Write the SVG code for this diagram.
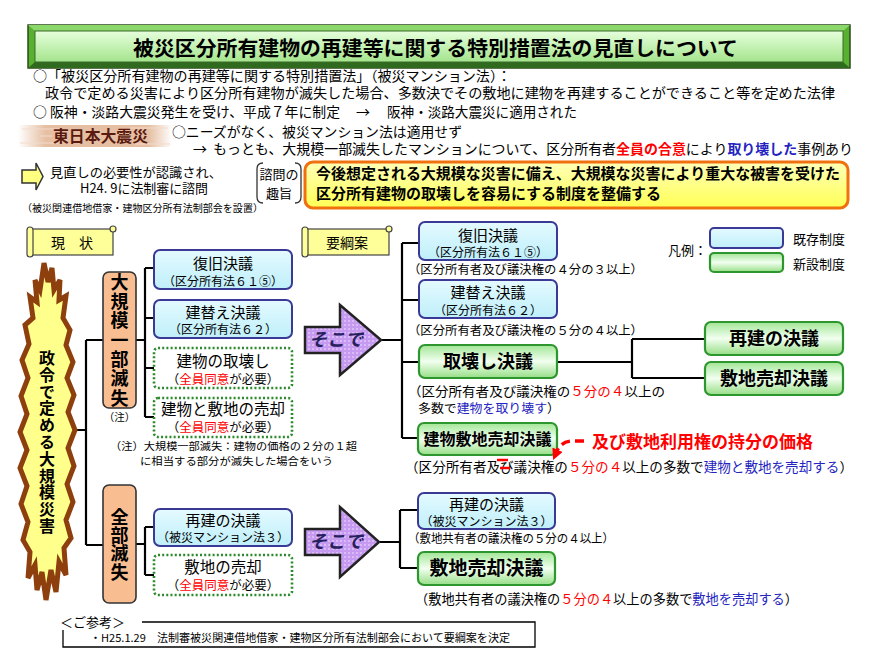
<svg xmlns="http://www.w3.org/2000/svg" width="876" height="659" viewBox="0 0 876 659">
<defs>
<style>
text{font-family:"Noto Sans CJK JP","Noto Sans",sans-serif;fill:#000}
.b{font-weight:bold}
.r{fill:#FF0000}
.bl{fill:#2424C0}
.c{text-anchor:middle}
.v{writing-mode:vertical-rl}
.boxB{fill:url(#gB);stroke:#3A3A96;stroke-width:2}
.boxG{fill:url(#gG);stroke:#2E962E;stroke-width:2.2}
.boxD{fill:#fff;stroke:#2B8A2B;stroke-width:2.6;stroke-dasharray:2 2.2}
.ln{stroke:#000;stroke-width:2.2;fill:none}
.scroll{fill:#FFFF99;stroke:#444;stroke-width:1.2}
.arrowP{fill:url(#dots);stroke:#222;stroke-width:2.5;stroke-linejoin:miter}
.soko{font-size:18px;font-weight:bold;font-style:italic;fill:#26205E;text-anchor:middle}
.peach{fill:#F8BE92;stroke:#333;stroke-width:1.6}
</style>
<linearGradient id="gB" x1="0" y1="0" x2="0" y2="1"><stop offset="0" stop-color="#E4FAFF"/><stop offset="1" stop-color="#BFEFFA"/></linearGradient>
<linearGradient id="gG" x1="0" y1="0" x2="0" y2="1"><stop offset="0" stop-color="#A2E696"/><stop offset="0.5" stop-color="#F2FFF0"/><stop offset="1" stop-color="#96DE86"/></linearGradient>
<linearGradient id="gTitle" x1="0" y1="0" x2="0" y2="1"><stop offset="0" stop-color="#E6FFDC"/><stop offset="1" stop-color="#A4E48C"/></linearGradient>
<linearGradient id="gY" x1="0" y1="0" x2="0" y2="1"><stop offset="0" stop-color="#FFFFB8"/><stop offset="1" stop-color="#FFFF55"/></linearGradient>
<linearGradient id="gBrush" x1="0" y1="0" x2="1" y2="0"><stop offset="0" stop-color="#E6BFA3" stop-opacity="0"/><stop offset="0.18" stop-color="#E6BFA3"/><stop offset="0.85" stop-color="#E6BFA3"/><stop offset="1" stop-color="#E6BFA3" stop-opacity="0"/></linearGradient>
<pattern id="dots" width="4" height="4" patternUnits="userSpaceOnUse"><rect width="4" height="4" fill="#C69AF0"/><circle cx="1" cy="1" r="0.8" fill="#F2E6FF"/></pattern>
<marker id="ra" viewBox="0 0 10 10" refX="8" refY="5" markerWidth="3.2" markerHeight="3.2" orient="auto"><path d="M0,0 L10,5 L0,10 z" fill="#FF0000"/></marker>
</defs>

<!-- Title -->
<g id="title">
<rect x="28" y="25" width="822" height="43" fill="#58B030" stroke="#2A4A1A" stroke-width="1.5"/>
<path d="M28,25 H850 L843,31 H35 Z" fill="#8AD86A"/>
<path d="M28,68 H850 L843,62 H35 Z" fill="#2F6A1E"/>
<rect x="35" y="31" width="808" height="31" fill="url(#gTitle)" stroke="#3A6A2A" stroke-width="1"/>
<text x="133" y="56" font-size="20" class="b" textLength="605" lengthAdjust="spacingAndGlyphs">被災区分所有建物の再建等に関する特別措置法の見直しについて</text>
</g>

<!-- Intro lines -->
<g id="intro">
<text x="33" y="81" font-size="14" textLength="478" lengthAdjust="spacingAndGlyphs">○「被災区分所有建物の再建等に関する特別措置法」（被災マンション法）：</text>
<text x="45" y="98" font-size="14" textLength="790" lengthAdjust="spacingAndGlyphs">政令で定める災害により区分所有建物が滅失した場合、多数決でその敷地に建物を再建することができること等を定めた法律</text>
<text x="33" y="117" font-size="14" textLength="307" lengthAdjust="spacingAndGlyphs">○ 阪神・淡路大震災発生を受け、平成７年に制定</text>
<text x="356" y="117" font-size="14">→</text>
<text x="387" y="117" font-size="14" textLength="190" lengthAdjust="spacingAndGlyphs">阪神・淡路大震災に適用された</text>
</g>

<g id="higashi">
<rect x="18" y="125" width="154" height="22" fill="url(#gBrush)"/>
<path d="M22,129 H60 M130,128 H168 M20,143 H58 M135,144 H170 M40,136 H52" stroke="#F4DCCB" stroke-width="1.2"/>
<text x="53" y="142" font-size="15.5" class="b" style="fill:#5A1A10" textLength="95" lengthAdjust="spacingAndGlyphs">東日本大震災</text>
<text x="172" y="137" font-size="13.5" textLength="290" lengthAdjust="spacingAndGlyphs">○ニーズがなく、被災マンション法は適用せず</text>
<text x="193" y="154" font-size="14">→</text>
<text x="213" y="154" font-size="14" textLength="640" lengthAdjust="spacingAndGlyphs">もっとも、大規模一部滅失したマンションについて、区分所有者<tspan class="r b">全員の合意</tspan>により<tspan class="bl b">取り壊した</tspan>事例あり</text>
</g>

<g id="review">
<polygon points="22,170 36,170 36,163 43,176.5 36,190 36,183 22,183" fill="#FFFF80" stroke="#333" stroke-width="1.5"/>
<text x="50" y="177" font-size="13" textLength="172" lengthAdjust="spacingAndGlyphs">見直しの必要性が認識され、</text>
<text x="80" y="193" font-size="13" textLength="128" lengthAdjust="spacingAndGlyphs">H24. 9に法制審に諮問</text>
<text x="22" y="212" font-size="10" textLength="241" lengthAdjust="spacingAndGlyphs">（被災関連借地借家・建物区分所有法制部会を設置）</text>
</g>

<g id="shimon">
<path d="M263,163 Q257,163 257,169 L257,197 Q257,203 263,203 M295,163 Q301,163 301,169 L301,197 Q301,203 295,203" fill="none" stroke="#333" stroke-width="1.3"/>
<text x="279" y="179" font-size="13" class="c">諮問の</text>
<text x="279" y="198" font-size="13" class="c">趣旨</text>
</g>

<g id="purpose">
<rect x="305" y="162" width="543" height="46" rx="8" fill="url(#gY)" stroke="#F07010" stroke-width="3"/>
<text x="316" y="179" font-size="15" class="b" textLength="524" lengthAdjust="spacingAndGlyphs">今後想定される大規模な災害に備え、大規模な災害により重大な被害を受けた</text>
<text x="316" y="199" font-size="15" class="b" textLength="345" lengthAdjust="spacingAndGlyphs">区分所有建物の取壊しを容易にする制度を整備する</text>
</g>

<!-- scrolls -->
<g id="genjo">
<rect x="30" y="229" width="83" height="26" class="scroll"/>
<rect x="27" y="227" width="6" height="30" rx="3" class="scroll"/>
<circle cx="113" cy="229" r="3" class="scroll"/>
<text x="72" y="248" font-size="14" class="c">現　状</text>
</g>
<g id="youkouan">
<rect x="305" y="229" width="84" height="26" class="scroll"/>
<rect x="302" y="227" width="6" height="30" rx="3" class="scroll"/>
<circle cx="389" cy="229" r="3" class="scroll"/>
<text x="347" y="248" font-size="14" class="c">要綱案</text>
</g>

<!-- legend -->
<g id="legend">
<text x="668" y="255" font-size="13">凡例：</text>
<rect x="710" y="228" width="73" height="20" rx="4" class="boxB"/>
<rect x="710" y="253" width="73" height="19" rx="4" class="boxG"/>
<text x="793" y="244" font-size="13">既存制度</text>
<text x="793" y="269" font-size="13">新設制度</text>
</g>

<!-- connectors -->
<g id="connectors" class="ln">
<path d="M68,430 H86 M86,340 V545 M86,340 H103 M86,545 H103"/>
<path d="M136,340 H145 M145,268 V417 M145,268 H154 M145,318 H154 M145,368 H154 M145,417 H154"/>
<path d="M136,544 H145 M145,527 V575 M145,527 H154 M145,575 H154"/>
<path d="M381,340 H402 M402,243 V438 M402,243 H419 M402,300 H419 M402,362 H419 M402,438 H419"/>
<path d="M557,362 H632 M632,339 V378 M632,339 H705 M632,378 H705"/>
<path d="M379,542 H400 M400,510 V568 M400,510 H418 M400,568 H418"/>
</g>

<!-- flame -->
<g id="flame">
<polygon points="44,263 48,282 52,268 54,290 60,280 59,300 66,296 63,318 70,330 66,345 73,362 67,378 74,395 68,412 75,430 68,448 74,466 67,484 73,502 66,520 71,538 64,548 66,575 59,562 56,592 51,570 46,600 42,572 37,590 35,565 28,578 30,552 23,540 28,522 21,504 27,486 20,468 27,450 20,432 27,414 21,396 28,378 22,360 29,344 25,325 33,318 30,297 37,302 35,280 40,290" fill="#FFFF8C" stroke="#8E3F0E" stroke-width="5" stroke-linejoin="miter"/>
<text x="47" y="350" font-size="16" class="b v" textLength="184" lengthAdjust="spacing">政令で定める大規模災害</text>
</g>

<!-- left category boxes -->
<g id="daikibo">
<rect x="103" y="272" width="33" height="136" rx="6" class="peach"/>
<text x="119.5" y="273" font-size="18" class="b v" textLength="134" lengthAdjust="spacing">大規模一部滅失</text>
<text x="119.5" y="421" font-size="10.5" class="c">（注）</text>
</g>
<g id="zenbu">
<rect x="103" y="485" width="33" height="118" rx="6" class="peach"/>
<text x="119.5" y="508" font-size="18" class="b v" textLength="73" lengthAdjust="spacing">全部滅失</text>
</g>

<g id="note">
<text x="110" y="450" font-size="10.5" textLength="247" lengthAdjust="spacingAndGlyphs">（注）大規模一部滅失：建物の価格の２分の１超</text>
<text x="140" y="465" font-size="10.5" textLength="193" lengthAdjust="spacingAndGlyphs">に相当する部分が滅失した場合をいう</text>
</g>

<!-- current system boxes -->
<g id="l-fukkyu">
<rect x="154" y="250" width="138" height="39" rx="6" class="boxB"/>
<text x="223" y="269" font-size="15" class="c">復旧決議</text>
<text x="223" y="286" font-size="12" class="c">（区分所有法６１⑤）</text>
</g>
<g id="l-tatekae">
<rect x="154" y="300" width="138" height="38" rx="6" class="boxB"/>
<text x="223" y="318" font-size="15" class="c">建替え決議</text>
<text x="223" y="334" font-size="12" class="c">（区分所有法６２）</text>
</g>
<g id="l-torikowashi">
<rect x="154" y="348" width="138" height="40" rx="4" class="boxD"/>
<text x="223" y="367" font-size="15.5" class="c">建物の取壊し</text>
<text x="223" y="384" font-size="12.5" class="c">（<tspan class="r">全員同意</tspan>が必要）</text>
</g>
<g id="l-baikyaku">
<rect x="154" y="398" width="138" height="39" rx="4" class="boxD"/>
<text x="223" y="415" font-size="15.5" class="c">建物と敷地の売却</text>
<text x="223" y="432" font-size="12.5" class="c">（<tspan class="r">全員同意</tspan>が必要）</text>
</g>
<g id="l-saiken">
<rect x="154" y="509" width="138" height="37" rx="6" class="boxB"/>
<text x="223" y="526" font-size="15" class="c">再建の決議</text>
<text x="223" y="542" font-size="12" class="c">（被災マンション法３）</text>
</g>
<g id="l-shikichi">
<rect x="154" y="555" width="138" height="40" rx="4" class="boxD"/>
<text x="223" y="573" font-size="15.5" class="c">敷地の売却</text>
<text x="223" y="590" font-size="12.5" class="c">（<tspan class="r">全員同意</tspan>が必要）</text>
</g>

<!-- そこで arrows -->
<g id="soko1">
<polygon points="305,327 340,327 340,305 381,340 340,375 340,353 305,353" class="arrowP"/>
<text x="336" y="346" class="soko">そこで</text>
</g>
<g id="soko2">
<polygon points="305,529 340,529 340,507 379,542 340,577 340,555 305,555" class="arrowP"/>
<text x="336" y="548" class="soko">そこで</text>
</g>

<!-- proposal boxes -->
<g id="r-fukkyu">
<rect x="419" y="222" width="138" height="38" rx="6" class="boxB"/>
<text x="488" y="241" font-size="15" class="c">復旧決議</text>
<text x="488" y="257" font-size="12" class="c">（区分所有法６１⑤）</text>
<text x="408" y="274" font-size="12" textLength="235" lengthAdjust="spacingAndGlyphs">（区分所有者及び議決権の４分の３以上）</text>
</g>
<g id="r-tatekae">
<rect x="419" y="280" width="138" height="38" rx="6" class="boxB"/>
<text x="488" y="298" font-size="15" class="c">建替え決議</text>
<text x="488" y="315" font-size="12" class="c">（区分所有法６２）</text>
<text x="408" y="335" font-size="12" textLength="235" lengthAdjust="spacingAndGlyphs">（区分所有者及び議決権の５分の４以上）</text>
</g>
<g id="r-torikowashi">
<rect x="419" y="345" width="138" height="33" rx="6" class="boxG"/>
<text x="488" y="368" font-size="18" class="b c">取壊し決議</text>
<text x="408" y="396" font-size="13" textLength="257" lengthAdjust="spacingAndGlyphs">（区分所有者及び議決権の<tspan class="r">５分の４</tspan>以上の</text>
<text x="418" y="413" font-size="12.5" textLength="142" lengthAdjust="spacingAndGlyphs">多数で<tspan class="bl">建物を取り壊す</tspan>）</text>
</g>
<g id="r-tatemonoshikichi">
<rect x="418" y="423" width="139" height="32" rx="6" class="boxG"/>
<text x="487.5" y="445" font-size="16" class="b c">建物敷地売却決議</text>
<text x="405" y="472" font-size="13.5" textLength="448" lengthAdjust="spacingAndGlyphs">（区分所有者及び議決権の<tspan class="r">５分の４</tspan>以上の多数で<tspan class="bl">建物と敷地を売却する</tspan>）</text>
</g>
<g id="amendment">
<path d="M584,441 L571,441 Q561,442 557,451 L554,458" fill="none" stroke="#FF0000" stroke-width="3.5" stroke-dasharray="9 5" marker-end="url(#ra)"/>
<path d="M497,460 H508 M500,468 H510" stroke="#FF0000" stroke-width="2.5"/>
<text x="592" y="448" font-size="17" class="b r" textLength="221" lengthAdjust="spacingAndGlyphs">及び敷地利用権の持分の価格</text>
</g>
<g id="r-saiken2">
<rect x="705" y="322" width="138" height="33" rx="6" class="boxG"/>
<text x="774" y="345" font-size="18" class="b c">再建の決議</text>
</g>
<g id="r-shikichi2">
<rect x="705" y="362" width="138" height="33" rx="6" class="boxG"/>
<text x="774" y="385" font-size="18" class="b c">敷地売却決議</text>
</g>
<g id="r-saiken">
<rect x="418" y="493" width="137" height="36" rx="6" class="boxB"/>
<text x="486.5" y="510" font-size="15" class="c">再建の決議</text>
<text x="486.5" y="526" font-size="12" class="c">（被災マンション法３）</text>
<text x="408" y="543" font-size="12" textLength="206" lengthAdjust="spacingAndGlyphs">（敷地共有者の議決権の５分の４以上）</text>
</g>
<g id="r-shikichi">
<rect x="418" y="552" width="137" height="33" rx="6" class="boxG"/>
<text x="486.5" y="575" font-size="19" class="b c">敷地売却決議</text>
<text x="415" y="604" font-size="13.5" textLength="383" lengthAdjust="spacingAndGlyphs">（敷地共有者の議決権の<tspan class="r">５分の４</tspan>以上の多数で<tspan class="bl">敷地を売却する</tspan>）</text>
</g>

<!-- reference -->
<g id="sankou">
<path d="M142,622 H535 V647 H63 V630" fill="none" stroke="#000" stroke-width="1.3"/>
<text x="60" y="627" font-size="13" textLength="65" lengthAdjust="spacingAndGlyphs">＜ご参考＞</text>
<text x="90" y="642" font-size="11" textLength="420" lengthAdjust="spacingAndGlyphs">・H25.1.29　法制審被災関連借地借家・建物区分所有法制部会において要綱案を決定</text>
</g>
</svg>
